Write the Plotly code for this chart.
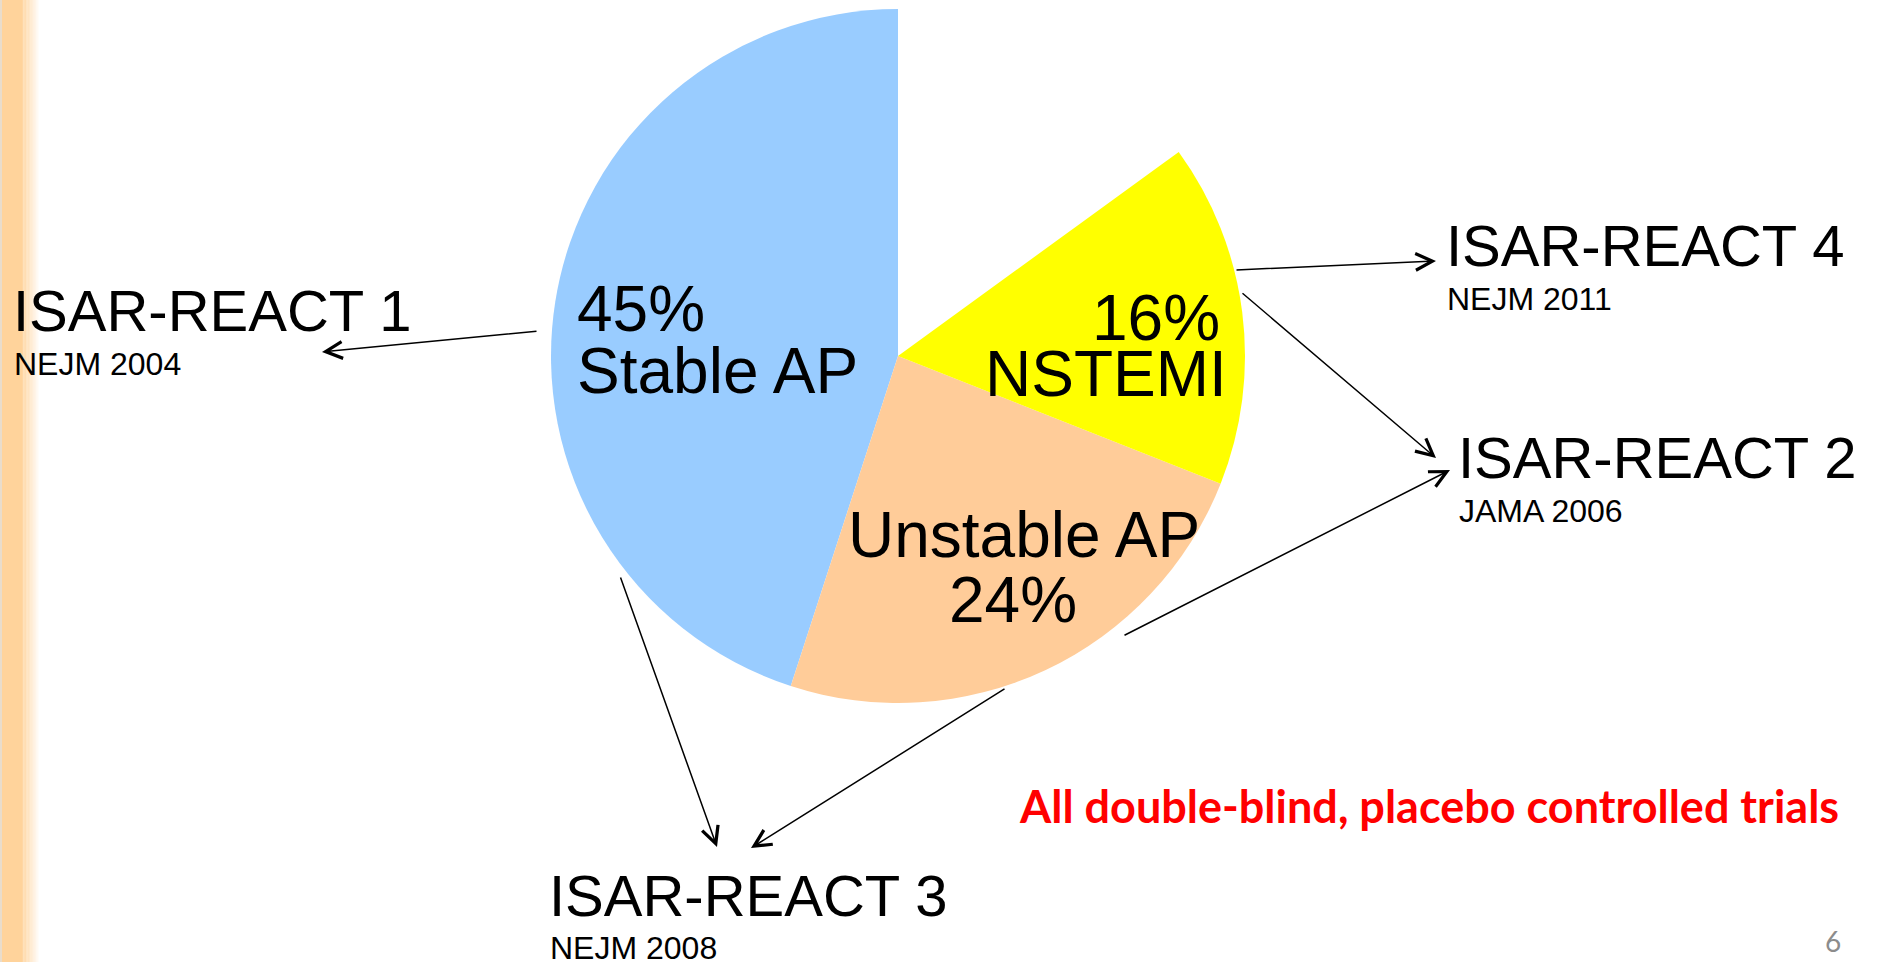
import plotly.graph_objects as go

W, H = 1883, 962

# pie data (the last 15% is the blank wedge)
categories = ["Stable AP", "Unstable AP", "NSTEMI", "Other"]
shares = [45, 24, 16, 15]
colors = ["#99CCFF", "#FFCC99", "#FFFF00", "rgba(0,0,0,0)"]

trials = ["ISAR-REACT 1", "ISAR-REACT 2", "ISAR-REACT 3", "ISAR-REACT 4"]
journals = ["NEJM 2004", "JAMA 2006", "NEJM 2008", "NEJM 2011"]
note = "All double-blind, placebo controlled trials"
page_no = "6"


def px(x):
    return x / W


def py(y):
    return 1 - y / H


fig = go.Figure()
# counterclockwise pies put the first slice to the right of 12 o'clock,
# so rotate it until Stable AP ends at 12 o'clock on the left side
fig.add_trace(go.Pie(
    labels=categories, values=shares, sort=False,
    direction="counterclockwise", rotation=360 - shares[0] * 3.6,
    marker=dict(colors=colors, line=dict(width=0)),
    textinfo="none", hoverinfo="label+percent", showlegend=False,
    domain=dict(x=[px(551), px(1245)], y=[py(703), py(9)]),
))

ARIAL = "Liberation Sans, Arial, sans-serif"
ann = []


def label(text, x, y, size, anchor="left", color="black", family=ARIAL, weight="normal"):
    ann.append(dict(text=text, x=px(x), y=py(y), xref="paper", yref="paper",
                    xanchor=anchor, yanchor="middle", showarrow=False,
                    font=dict(family=family, size=size, color=color, weight=weight)))


# slice labels
label(f"{shares[0]}%", 575, 309, 64)
label(categories[0], 575, 371, 64)
label(f"{shares[2]}%", 1222, 318, 64, anchor="right")
label(categories[2], 1229, 374, 64, anchor="right")
label(categories[1], 1024, 535, 64, anchor="center")
label(f"{shares[1]}%", 1013, 600, 64, anchor="center")

# trial labels
trial_pos = [(14, 310, 364), (1459, 457, 511), (550, 895, 948), (1447, 245, 299)]
for t, j, (x, y1, y2) in zip(trials, journals, trial_pos):
    label(t, x - 3, y1, 58)
    label(j, x - 2, y2, 32)

label(note, 1017, 806, 45, color="#FF0000", family="Lato, Carlito, sans-serif", weight="bold")
label(page_no, 1843, 941, 28, anchor="right", color="#8C8C8C", family="Lato, Carlito, sans-serif")

# arrows: (tail, tip) in pixels
arrows = [
    ((538, 331), (322, 352)),
    ((1235, 270), (1436, 261)),
    ((1241, 292), (1436, 458)),
    ((1123, 636), (1450, 470)),
    ((620, 576), (717, 847)),
    ((1006, 688), (751, 848)),
]
for (tx, ty), (hx, hy) in arrows:
    ann.append(dict(text="", x=px(hx), y=py(hy), xref="paper", yref="paper",
                    ax=tx - hx, ay=ty - hy, axref="pixel", ayref="pixel",
                    showarrow=True, arrowhead=5, arrowsize=2.2, arrowwidth=1.5,
                    arrowcolor="black", standoff=0))

# orange stripe on the left edge
shapes = [dict(type="rect", xref="paper", yref="paper", x0=0, x1=px(22), y0=0, y1=1,
               fillcolor="#FFD39B", line=dict(width=0), layer="below")]
steps = 12
for i in range(steps):
    a = 1 - (i + 1) / (steps + 1)
    shapes.append(dict(type="rect", xref="paper", yref="paper",
                       x0=px(22 + i * 1.4), x1=px(22 + (i + 1) * 1.4), y0=0, y1=1,
                       fillcolor=f"rgba(255,211,155,{a:.2f})", line=dict(width=0), layer="below"))
shapes.append(dict(type="rect", xref="paper", yref="paper", x0=0, x1=px(2), y0=0, y1=1,
                   fillcolor="#E9DCCB", line=dict(width=0), layer="below"))

fig.update_layout(
    width=W, height=H, margin=dict(l=0, r=0, t=0, b=0),
    paper_bgcolor="white", plot_bgcolor="white",
    annotations=ann, shapes=shapes, showlegend=False,
)

fig.write_html("out.html", config={"displayModeBar": False},
               post_script="document.body.style.margin='0';")
